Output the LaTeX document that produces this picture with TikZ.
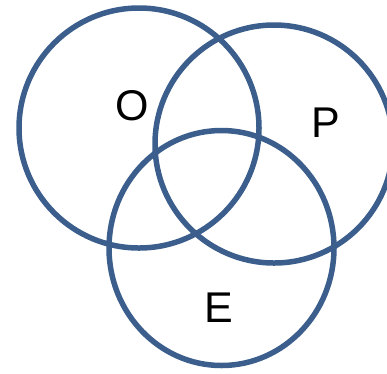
\documentclass[tikz,border=0pt]{standalone}
\usepackage{fontspec}
\setmainfont{Liberation Sans}
\usetikzlibrary{shapes.geometric}
\definecolor{vennblue}{RGB}{59,94,140}
\tikzset{vset/.style={draw=vennblue,line width=5.5pt,inner sep=0pt},
         vlab/.style={font=\fontsize{43}{43}\selectfont,anchor=base,inner sep=0pt}}

\begin{document}
\begin{tikzpicture}[x=1pt,y=-1pt]
    \useasboundingbox (0,0) rectangle (387,373);
    \node[vset,circle,minimum size=240pt] (setO) at (139,128) {};
    \node[vset,circle,minimum size=238pt] (setP) at (274,144) {};
    \node[vset,ellipse,minimum width=225pt,minimum height=235pt] (setE) at (221.5,248) {};
    \node[vlab] (labO) at (132,120) {O};
    \node[vlab] (labP) at (326,137) {P};
    \node[vlab] (labE) at (219,322) {E};
  \end{tikzpicture}
\end{document}
